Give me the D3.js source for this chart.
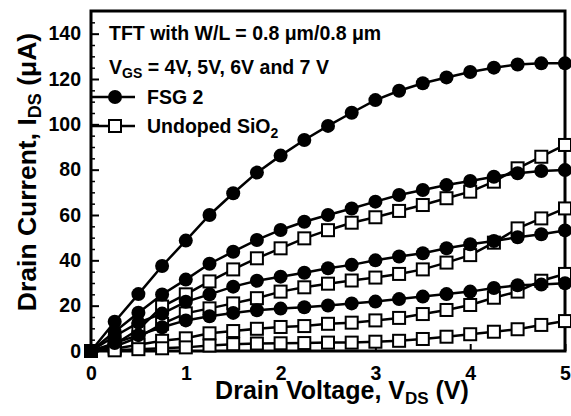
<!DOCTYPE html>
<html>
<head>
<meta charset="utf-8">
<script src="https://cdn.jsdelivr.net/npm/d3@7"></script>
<style>
  body { margin: 0; background: #fff; }
  svg { font-family: "Liberation Sans", Arial, sans-serif; font-weight: bold; }
</style>
</head>
<body>
<svg id="chart"></svg>
<script>
// drain voltage steps (V)
const vds = [0, 0.25, 0.5, 0.75, 1, 1.25, 1.5, 1.75, 2, 2.25, 2.5, 2.75, 3, 3.25, 3.5, 3.75, 4, 4.25, 4.5, 4.75, 5];

// FSG 2, Ids in uA for VGS = 7, 6, 5, 4 V
const fsg7 = [0, 12.9, 25.1, 37.5, 48.7, 60, 69.6, 78.7, 86.2, 93.1, 99.3, 105.1, 110.7, 114.8, 118.1, 120.7, 123.1, 125, 126.4, 126.9, 126.9];
const fsg6 = [0, 8.5, 16.9, 24.9, 31.5, 38.5, 43.8, 49, 53.4, 57, 60, 62.9, 65.9, 68.8, 71, 73.2, 75, 76.9, 78.4, 79.4, 79.8];
const fsg5 = [0, 6.5, 12.5, 16.5, 21.7, 25, 28.4, 31, 32.8, 34.5, 36.5, 38, 40, 41.7, 43.1, 45.3, 47.1, 48.5, 50.2, 51.5, 53.2];
const fsg4 = [0, 3.5, 7, 10.5, 13.5, 15.3, 16.8, 18, 18.7, 19.3, 20.1, 21, 21.8, 22.9, 24, 25.1, 26.2, 27.8, 29, 29.3, 29.9];

// undoped SiO2, same gate voltages
const sio7 = [0, 3, 9.5, 19.6, 25, 30.7, 36, 40.9, 45.3, 49.7, 53.3, 56.6, 59, 61.8, 64.4, 67.4, 70.3, 74.7, 80.6, 85.7, 90.9];
const sio6 = [0, 2, 6, 12, 16.6, 18.8, 21, 23.3, 26.2, 28.1, 29.7, 31.1, 32.4, 34, 36, 39, 42.3, 47.8, 54.1, 58.5, 62.9];
const sio5 = [0, 1, 2.8, 4.5, 5.6, 7.8, 8.8, 9.8, 10.6, 11, 12, 12.5, 13.5, 14.6, 16.3, 18.1, 20.3, 23.5, 26.2, 31, 34];
const sio4 = [0, 0.3, 0.8, 1.2, 1.6, 2.4, 3, 3.3, 3.4, 3.5, 3.7, 3.7, 4.1, 4.5, 5.3, 6.3, 7.4, 8.5, 9.6, 11.5, 13.2];

const yTicks = [0, 20, 40, 60, 80, 100, 120, 140];
const xTicks = [0, 1, 2, 3, 4, 5];

const fsgCurves = [fsg7, fsg6, fsg5, fsg4];
const sioCurves = [sio7, sio6, sio5, sio4];

const W = 571, H = 416;
const svg = d3.select("#chart").attr("width", W).attr("height", H);

const x = d3.scaleLinear().domain([0, 5]).range([91, 565]);
const y = d3.scaleLinear().domain([0, 150]).range([351, 11]);

const line = d3.line()
  .x((d, i) => x(vds[i]))
  .y(d => y(d));

// axes
const minorY = d3.range(5, 150, 5).filter(v => v % 20 !== 0);
svg.append("g")
  .attr("transform", `translate(${x(0)},0)`)
  .call(d3.axisLeft(y).tickValues(minorY).tickSizeInner(-4).tickSizeOuter(0).tickFormat(""))
  .call(g => g.select(".domain").remove())
  .selectAll("line").attr("stroke-width", 1.5);

const yAxis = svg.append("g")
  .attr("transform", `translate(${x(0)},0)`)
  .call(d3.axisLeft(y).tickValues(yTicks).tickSizeInner(-8).tickSizeOuter(0).tickPadding(10));
yAxis.select(".domain").remove();
yAxis.selectAll("line").attr("stroke-width", 2);
yAxis.selectAll("text").attr("font-size", 19.5).attr("font-family", null).attr("fill", "#000");

const xAxis = svg.append("g")
  .attr("transform", `translate(0,${y(0)})`)
  .call(d3.axisBottom(x).tickValues(xTicks).tickFormat(d3.format("d"))
    .tickSizeInner(-7).tickSizeOuter(0).tickPadding(15));
xAxis.select(".domain").remove();
xAxis.selectAll("line").attr("stroke-width", 2);
xAxis.selectAll("text").attr("font-size", 19.5).attr("font-family", null).attr("fill", "#000");

// frame
svg.append("rect")
  .attr("x", x(0)).attr("y", y(150))
  .attr("width", x(5) - x(0)).attr("height", y(0) - y(150))
  .attr("fill", "none").attr("stroke", "#000").attr("stroke-width", 3);

// curves
const plot = svg.append("g");
plot.selectAll("path.sio")
  .data(sioCurves)
  .enter().append("path")
  .attr("class", "sio")
  .attr("d", line)
  .attr("fill", "none").attr("stroke", "#000").attr("stroke-width", 2.5);

plot.selectAll("path.fsg")
  .data(fsgCurves)
  .enter().append("path")
  .attr("class", "fsg")
  .attr("d", line)
  .attr("fill", "none").attr("stroke", "#000").attr("stroke-width", 2.5);

const sq = 12;
sioCurves.forEach(c => {
  plot.append("g").selectAll("rect")
    .data(c)
    .enter().append("rect")
    .attr("x", (d, i) => x(vds[i]) - sq / 2)
    .attr("y", d => y(d) - sq / 2)
    .attr("width", sq).attr("height", sq)
    .attr("fill", "#fff").attr("stroke", "#000").attr("stroke-width", 2);
});

fsgCurves.forEach(c => {
  plot.append("g").selectAll("circle")
    .data(c)
    .enter().append("circle")
    .attr("cx", (d, i) => x(vds[i]))
    .attr("cy", d => y(d))
    .attr("r", 7)
    .attr("fill", "#000");
});

// annotations
const note = svg.append("g").attr("font-size", 19.5);
note.append("text").attr("x", 109).attr("y", 40)
  .text("TFT with W/L = 0.8 μm/0.8 μm");
const vgs = note.append("text").attr("x", 109).attr("y", 74);
vgs.append("tspan").text("V");
vgs.append("tspan").attr("font-size", 14).attr("dy", 4).text("GS");
vgs.append("tspan").attr("dy", -4).text(" = 4V, 5V, 6V and 7 V");

// legend
const legend = svg.append("g");
legend.append("line").attr("x1", x(0)).attr("x2", 135).attr("y1", 97).attr("y2", 97)
  .attr("stroke", "#000").attr("stroke-width", 2.5);
legend.append("circle").attr("cx", 115).attr("cy", 97).attr("r", 7).attr("fill", "#000");
legend.append("text").attr("x", 147).attr("y", 104).attr("font-size", 19.5).text("FSG 2");

legend.append("line").attr("x1", x(0)).attr("x2", 135).attr("y1", 126).attr("y2", 126)
  .attr("stroke", "#000").attr("stroke-width", 2.5);
legend.append("rect").attr("x", 115 - sq / 2).attr("y", 126 - sq / 2).attr("width", sq).attr("height", sq)
  .attr("fill", "#fff").attr("stroke", "#000").attr("stroke-width", 2);
const lt = legend.append("text").attr("x", 147).attr("y", 133).attr("font-size", 19.5);
lt.append("tspan").text("Undoped SiO");
lt.append("tspan").attr("font-size", 14).attr("dy", 5).text("2");

// axis titles
const xt = svg.append("text")
  .attr("x", 342).attr("y", 399)
  .attr("text-anchor", "middle")
  .attr("font-size", 25);
xt.append("tspan").text("Drain Voltage, V");
xt.append("tspan").attr("font-size", 17).attr("dy", 5).text("DS");
xt.append("tspan").attr("dy", -5).text(" (V)");

const yt = svg.append("text")
  .attr("transform", "translate(36,172) rotate(-90)")
  .attr("text-anchor", "middle")
  .attr("font-size", 26.5);
yt.append("tspan").text("Drain Current, I");
yt.append("tspan").attr("font-size", 18).attr("dy", 5).text("DS");
yt.append("tspan").attr("dy", -5).text(" (μA)");
</script>
</body>
</html>
